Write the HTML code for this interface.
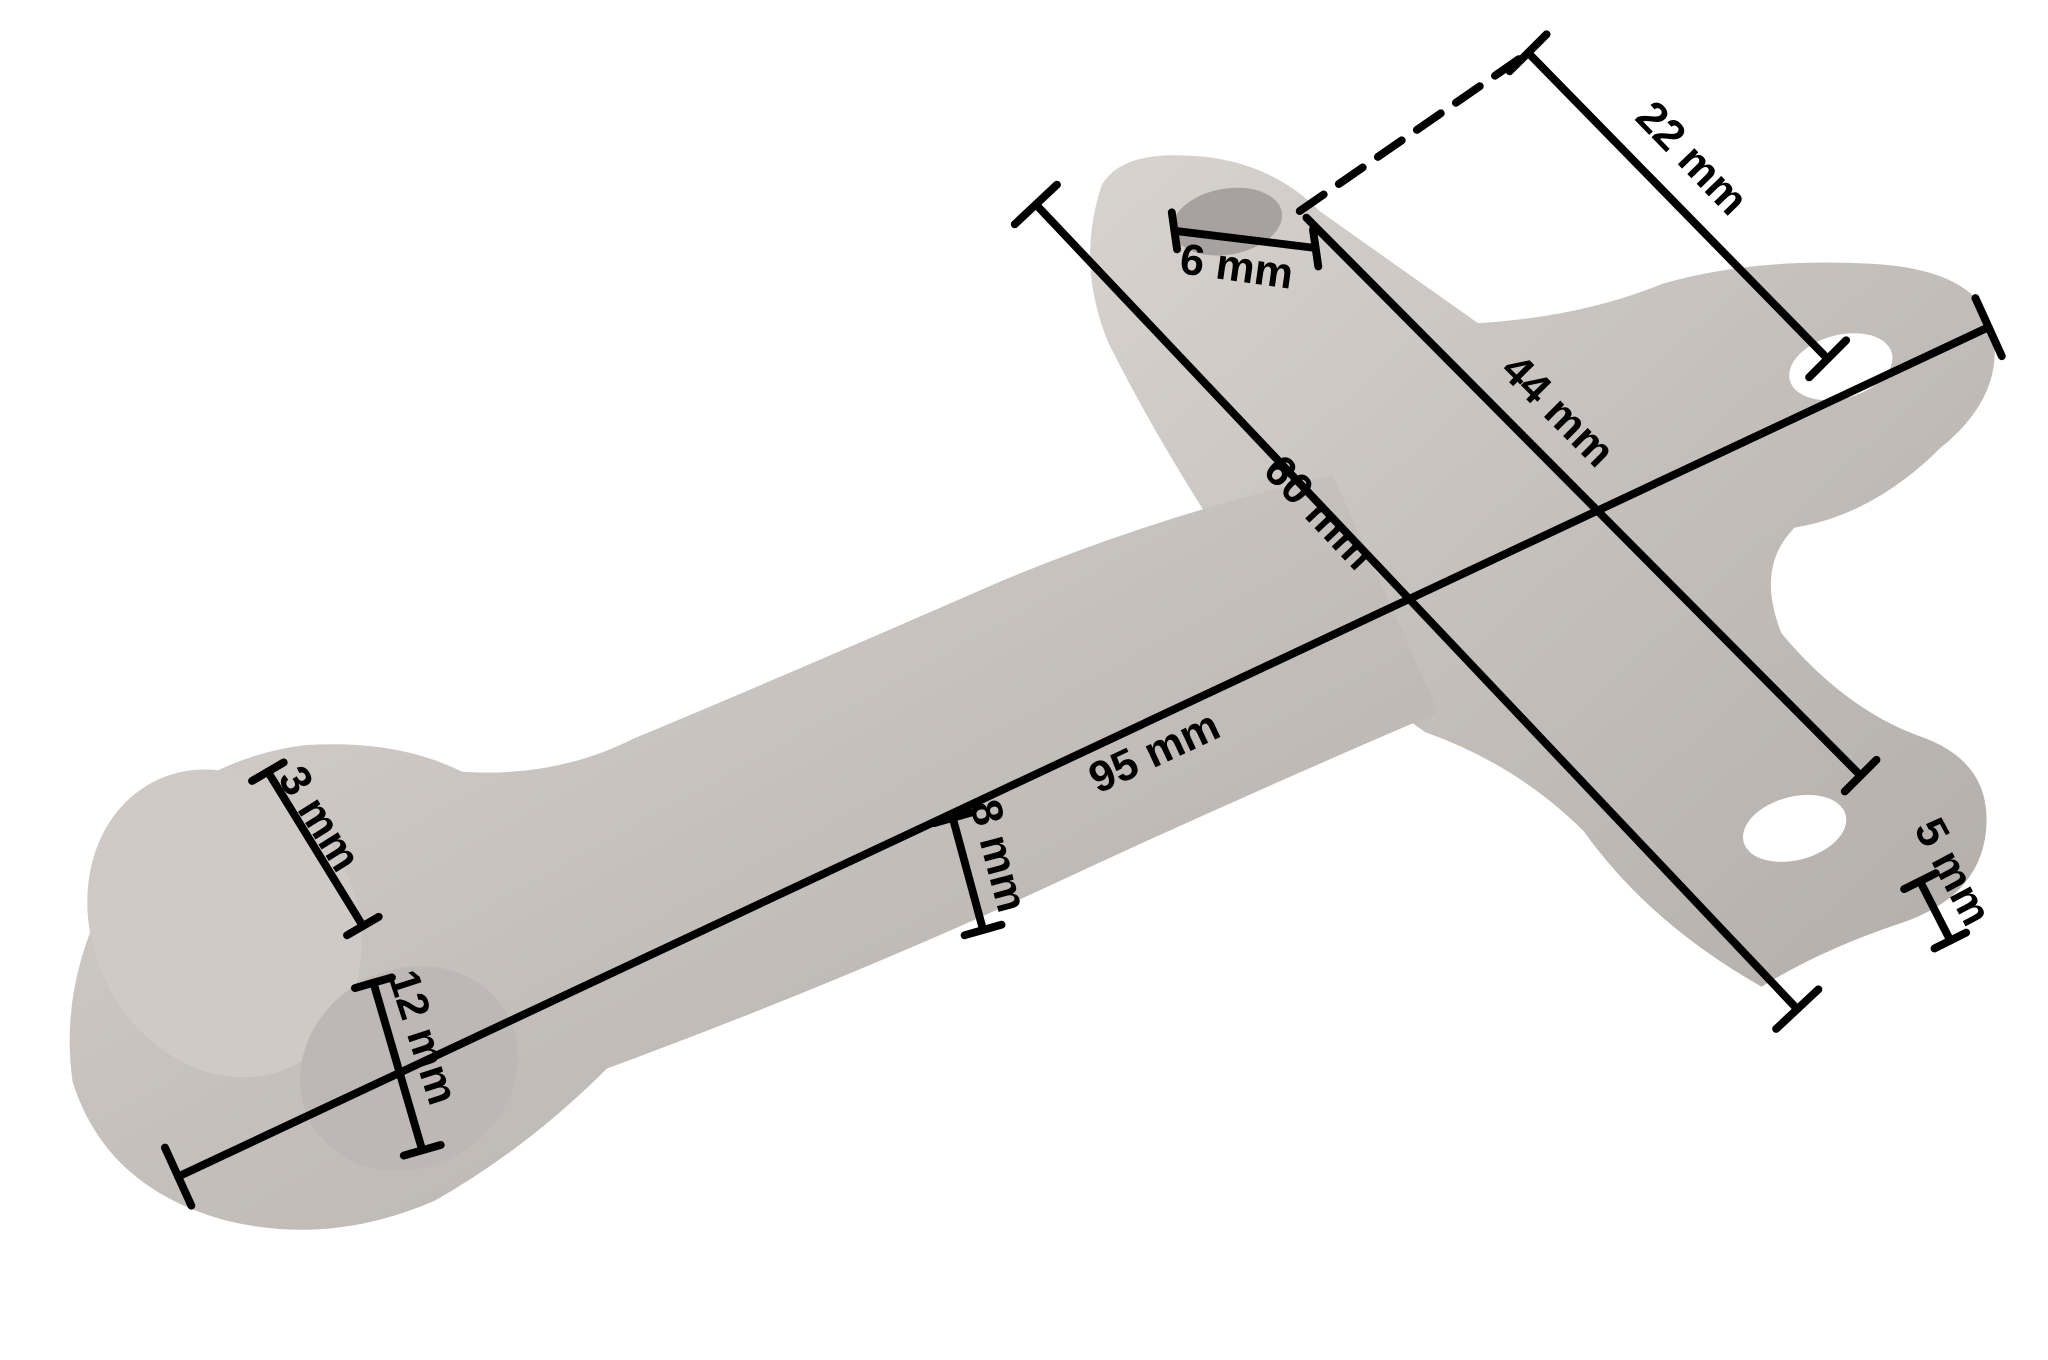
<!DOCTYPE html>
<html><head><meta charset="utf-8"><style>
html,body{margin:0;padding:0;background:#fff;}
svg{display:block;}
text{font-family:"Liberation Sans",sans-serif;font-weight:bold;font-size:33px;fill:#000;}
</style></head><body>
<svg width="2048" height="1360" viewBox="0 0 1552 1031" preserveAspectRatio="none" xmlns="http://www.w3.org/2000/svg">
<defs>
<linearGradient id="g" x1="0" y1="0" x2="1" y2="1">
<stop offset="0" stop-color="#d8d3cf"/><stop offset="0.5" stop-color="#c4bfbb"/><stop offset="1" stop-color="#b3aeaa"/>
</linearGradient>
</defs>
<path d="M835,140 Q850,115 900,118 Q960,120 1000,160 L1120,245 Q1200,240 1260,215 Q1330,195 1420,200 Q1500,205 1510,250 Q1520,300 1470,340 Q1420,390 1360,400 Q1330,430 1350,480 Q1400,540 1460,560 Q1510,580 1505,630 Q1500,680 1440,700 Q1380,720 1335,748 Q1250,700 1200,630 Q1150,580 1080,555 Q1000,500 940,430 Q880,340 840,260 Q815,200 835,140 Z" fill="url(#g)"/>
<path d="M80,680 Q120,580 230,565 Q300,560 350,585 Q420,590 480,560 Q600,510 760,440 Q880,390 1010,360 L1090,540 Q950,600 820,660 Q650,740 460,810 Q400,870 330,910 Q250,945 170,925 Q80,900 55,820 Q45,750 80,680 Z" fill="url(#g)"/>
<ellipse cx="170" cy="700" rx="100" ry="120" transform="rotate(-25 170 700)" fill="#cfcac6"/>
<ellipse cx="310" cy="810" rx="85" ry="75" transform="rotate(-30 310 810)" fill="#bdb8b5"/>
<ellipse cx="930" cy="168" rx="42" ry="25" transform="rotate(-10 930 168)" fill="#a7a29f"/>
<ellipse cx="1395" cy="278" rx="40" ry="24" transform="rotate(-15 1395 278)" fill="#fff"/>
<ellipse cx="1360" cy="628" rx="40" ry="24" transform="rotate(-15 1360 628)" fill="#fff"/>
<g stroke="#000" stroke-width="6" stroke-linecap="round" fill="none">
<line x1="135" y1="892" x2="1507" y2="248"/>
<line x1="125" y1="870" x2="145" y2="914"/><line x1="1497" y1="226" x2="1517" y2="270"/>
<line x1="785" y1="155" x2="1362" y2="765"/>
<line x1="769" y1="170" x2="801" y2="140"/><line x1="1346" y1="780" x2="1378" y2="750"/>
<line x1="990" y1="165" x2="1410" y2="588"/>
<line x1="1398" y1="600" x2="1422" y2="576"/>
<line x1="1158" y1="40" x2="1385" y2="272"/>
<line x1="1144" y1="54" x2="1172" y2="26"/><line x1="1371" y1="286" x2="1399" y2="258"/>
<line x1="985" y1="160" x2="1158" y2="40" stroke-dasharray="22,14"/>
<line x1="890" y1="175" x2="997" y2="188"/>
<line x1="888" y1="161" x2="892" y2="189"/><line x1="995" y1="174" x2="999" y2="202"/>
<line x1="203" y1="585" x2="275" y2="702"/>
<line x1="191" y1="592" x2="215" y2="578"/><line x1="263" y1="709" x2="287" y2="695"/>
<line x1="283" y1="745" x2="320" y2="872"/>
<line x1="269" y1="749" x2="297" y2="741"/><line x1="306" y1="876" x2="334" y2="868"/>
<line x1="722" y1="620" x2="745" y2="705"/>
<line x1="708" y1="624" x2="736" y2="616"/><line x1="731" y1="709" x2="759" y2="701"/>
<line x1="1455" y1="668" x2="1478" y2="713"/>
<line x1="1443" y1="674" x2="1467" y2="662"/><line x1="1466" y1="719" x2="1490" y2="707"/>
</g>
<text transform="translate(832,602) rotate(-25)">95 mm</text>
<text transform="translate(956,358) rotate(46.6)">60 mm</text>
<text transform="translate(1136,282) rotate(45)">44 mm</text>
<text transform="translate(1238,90) rotate(45.9)">22 mm</text>
<text transform="translate(893,207) rotate(8)">6 mm</text>
<text transform="translate(210,590) rotate(58)">3 mm</text>
<text transform="translate(294,740) rotate(72)">12 mm</text>
<text transform="translate(735,610) rotate(75)">8 mm</text>
<text transform="translate(1450,628) rotate(62)">5 mm</text>
</svg>
</body></html>
